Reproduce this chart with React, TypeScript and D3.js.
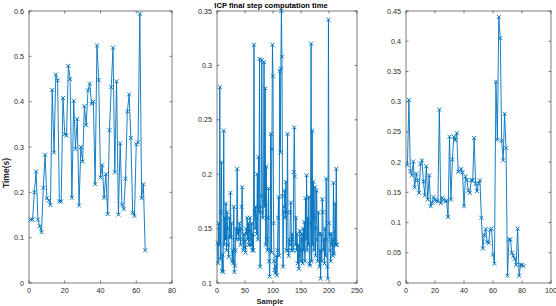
import React from "react";
import * as d3 from "d3";

const leftTimes = [0.14,0.14,0.2,0.246,0.14,0.125,0.112,0.21,0.283,0.187,
0.182,0.172,0.426,0.288,0.46,0.447,0.18,0.18,0.408,0.328,
0.325,0.479,0.45,0.188,0.402,0.296,0.362,0.171,0.3,0.268,
0.39,0.348,0.425,0.44,0.395,0.4,0.218,0.524,0.448,0.233,
0.26,0.188,0.24,0.152,0.337,0.432,0.519,0.244,0.445,0.151,
0.308,0.173,0.163,0.23,0.378,0.416,0.32,0.155,0.148,0.306,
0.31,0.594,0.187,0.218,0.072];

const middleTimes = [0.137,0.118,0.155,0.135,0.28,0.122,0.165,0.211,0.111,0.126,
0.11,0.24,0.135,0.16,0.14,0.173,0.13,0.165,0.15,0.135,
0.124,0.16,0.142,0.183,0.142,0.155,0.12,0.13,0.118,0.17,
0.11,0.116,0.13,0.15,0.14,0.205,0.145,0.15,0.14,0.155,
0.148,0.135,0.15,0.17,0.188,0.14,0.13,0.145,0.138,0.133,
0.128,0.15,0.145,0.16,0.14,0.155,0.135,0.148,0.16,0.14,
0.135,0.155,0.13,0.145,0.13,0.319,0.165,0.15,0.17,0.16,
0.145,0.2,0.14,0.216,0.165,0.306,0.115,0.17,0.18,0.305,
0.165,0.16,0.175,0.303,0.17,0.279,0.135,0.207,0.14,0.13,
0.16,0.187,0.12,0.106,0.13,0.237,0.128,0.223,0.319,0.29,
0.155,0.12,0.112,0.109,0.115,0.125,0.107,0.13,0.16,0.179,
0.125,0.295,0.22,0.297,0.35,0.308,0.18,0.115,0.165,0.17,
0.185,0.16,0.193,0.13,0.165,0.237,0.13,0.125,0.14,0.135,
0.165,0.174,0.13,0.145,0.14,0.13,0.202,0.243,0.198,0.135,
0.16,0.13,0.145,0.118,0.135,0.113,0.125,0.148,0.13,0.12,
0.14,0.145,0.118,0.15,0.13,0.156,0.12,0.178,0.14,0.199,
0.13,0.16,0.135,0.179,0.118,0.116,0.155,0.32,0.12,0.24,
0.135,0.193,0.13,0.16,0.188,0.125,0.15,0.185,0.14,0.12,
0.165,0.145,0.115,0.13,0.104,0.145,0.12,0.177,0.165,0.13,
0.14,0.118,0.15,0.125,0.196,0.14,0.115,0.104,0.342,0.155,
0.145,0.13,0.12,0.145,0.135,0.14,0.125,0.192,0.127,0.14,
0.173,0.135,0.205,0.135];

const rightTimes = [0.195,0.303,0.185,0.178,0.201,0.158,0.181,0.17,0.149,0.197,
0.203,0.168,0.145,0.193,0.138,0.178,0.127,0.133,0.142,0.138,
0.136,0.135,0.287,0.132,0.141,0.138,0.135,0.136,0.109,0.242,
0.138,0.204,0.242,0.236,0.248,0.184,0.186,0.189,0.183,0.127,
0.176,0.17,0.153,0.149,0.17,0.17,0.24,0.164,0.152,0.165,
0.17,0.108,0.057,0.079,0.089,0.068,0.066,0.088,0.09,0.047,
0.032,0.333,0.237,0.44,0.405,0.235,0.203,0.28,0.223,0.012,
0.072,0.072,0.05,0.045,0.04,0.03,0.09,0.012,0.03,0.03,0.028];

const leftXTicks = [0, 20, 40, 60, 80];
const leftYTicks = [0, 0.1, 0.2, 0.3, 0.4, 0.5, 0.6];
const middleXTicks = [0, 50, 100, 150, 200, 250];
const middleYTicks = [0.1, 0.15, 0.2, 0.25, 0.3, 0.35];
const rightXTicks = [0, 20, 40, 60, 80, 100];
const rightYTicks = [0, 0.05, 0.1, 0.15, 0.2, 0.25, 0.3, 0.35, 0.4, 0.45];

const titleText = "ICP final step computation time";
const xLabelText = "Sample";
const yLabelText = "Time(s)";

const LINE = "#0072BD";
const AX = "#262626";
const FONT = "'Liberation Sans', Arial, Helvetica, sans-serif";

type PanelProps = {
  data: number[];
  x0: number; x1: number; y0: number; y1: number;
  xDom: [number, number]; yDom: [number, number];
  xTicks: number[]; yTicks: number[];
};

function Panel({ data, x0, x1, y0, y1, xDom, yDom, xTicks, yTicks }: PanelProps) {
  const x = d3.scaleLinear().domain(xDom).range([x0, x1]);
  const y = d3.scaleLinear().domain(yDom).range([y1, y0]);
  const pts = data.map((v, i) => [x(i + 1), y(v)] as [number, number]);
  const line = d3.line()(pts) || "";
  const tl = 2.5;
  const fmt = (v: number) => String(+v.toFixed(3));
  return (
    <g>
      <rect x={x0} y={y0} width={x1 - x0} height={y1 - y0} fill="#fff" stroke={AX} strokeWidth={0.6} />
      {xTicks.map((t) => (
        <g key={"x" + t}>
          <line x1={x(t)} x2={x(t)} y1={y1} y2={y1 - tl} stroke={AX} strokeWidth={0.6} />
          <line x1={x(t)} x2={x(t)} y1={y0} y2={y0 + tl} stroke={AX} strokeWidth={0.6} />
          <text x={x(t)} y={y1 + 9.5} textAnchor="middle" fontSize={7.2} fill={AX} fontFamily={FONT}>{fmt(t)}</text>
        </g>
      ))}
      {yTicks.map((t) => (
        <g key={"y" + t}>
          <line x1={x0} x2={x0 + tl} y1={y(t)} y2={y(t)} stroke={AX} strokeWidth={0.6} />
          <line x1={x1} x2={x1 - tl} y1={y(t)} y2={y(t)} stroke={AX} strokeWidth={0.6} />
          <text x={x0 - 5} y={y(t) + 2.6} textAnchor="end" fontSize={7.2} fill={AX} fontFamily={FONT}>{fmt(t)}</text>
        </g>
      ))}
      <path d={line} fill="none" stroke={LINE} strokeWidth={0.9} />
      {pts.map(([px, py], i) => (
        <path key={i} d={`M${px - 2},${py - 2}L${px + 2},${py + 2}M${px - 2},${py + 2}L${px + 2},${py - 2}`}
          stroke={LINE} strokeWidth={0.95} fill="none" />
      ))}
    </g>
  );
}

export default function App() {
  const top = 11, bottom = 283;
  return (
    <svg width={556} height={306} style={{ position: "absolute", left: 0, top: 0, background: "#fff" }}>
      <rect x={0} y={0} width={556} height={306} fill="#fff" />
      <Panel data={leftTimes} x0={29} x1={172} y0={top} y1={bottom} xDom={[0, 80]} yDom={[0, 0.6]}
        xTicks={leftXTicks} yTicks={leftYTicks} />
      <Panel data={middleTimes} x0={217} x1={357} y0={top} y1={bottom} xDom={[0, 250]} yDom={[0.1, 0.35]}
        xTicks={middleXTicks} yTicks={middleYTicks} />
      <Panel data={rightTimes} x0={406} x1={551} y0={top} y1={bottom} xDom={[0, 100]} yDom={[0, 0.45]}
        xTicks={rightXTicks} yTicks={rightYTicks} />
      <text x={271} y={8} textAnchor="middle" fontSize={7.6} fontWeight="bold" fill="#000" fontFamily={FONT}>{titleText}</text>
      <text x={270} y={304} textAnchor="middle" fontSize={7.6} fontWeight="bold" fill={AX} fontFamily={FONT}>{xLabelText}</text>
      <text transform="translate(8.5,173) rotate(-90)" textAnchor="middle" fontSize={8.5} fontWeight="bold" fill={AX} fontFamily={FONT}>{yLabelText}</text>
    </svg>
  );
}
